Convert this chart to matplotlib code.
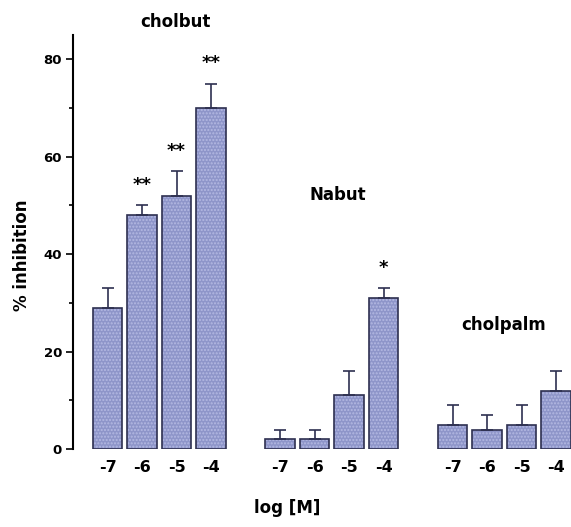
import matplotlib.pyplot as plt
from matplotlib.ticker import MultipleLocator

plt.rcParams['font.family'] = ['DejaVu Sans']
plt.rcParams['font.weight'] = 'bold'

# data
doses = ["-7", "-6", "-5", "-4"]
groups = ["cholbut", "Nabut", "cholpalm"]
cholbut = [29, 48, 52, 70]
cholbut_err = [4, 2, 5, 5]
nabut = [2, 2, 11, 31]
nabut_err = [2, 2, 5, 2]
cholpalm = [5, 4, 5, 12]
cholpalm_err = [4, 3, 4, 4]
stars = [["", "**", "**", "**"], ["", "", "", "*"], ["", "", "", ""]]

values = [cholbut, nabut, cholpalm]
errors = [cholbut_err, nabut_err, cholpalm_err]

fig = plt.figure(figsize=(5.71, 5.27), dpi=100)
ax = fig.add_axes([0.128, 0.148, 0.872, 0.786])

face = '#8e95c9'
edge = '#2e3050'
ticks = []
ticklabels = []
for g in range(3):
	x = [g * 5 + i for i in range(4)]
	ax.bar(x, values[g], width=0.85, color=face, edgecolor='#b4b9e2', hatch='.....', linewidth=0)
	ax.bar(x, values[g], width=0.85, fill=False, edgecolor=edge, linewidth=1.2)
	ax.errorbar(x, values[g], yerr=[[0] * 4, errors[g]], fmt='none', ecolor=edge,
				elinewidth=1.2, capsize=4, capthick=1.2)
	for i in range(4):
		if stars[g][i]:
			ax.text(x[i], values[g][i] + errors[g][i] + 2.3, stars[g][i], ha='center',
					va='bottom', fontsize=13, fontweight='bold')
	ticks += x
	ticklabels += doses

# group labels
ax.text(1.96, 87.7, groups[0], ha='center', va='center', fontsize=12, fontweight='bold')
ax.text(6.68, 52.1, groups[1], ha='center', va='center', fontsize=12, fontweight='bold')
ax.text(11.49, 25.4, groups[2], ha='center', va='center', fontsize=12, fontweight='bold')

ax.set_xlim(-1.0, 13.43)
ax.set_ylim(0, 85)
ax.set_xticks(ticks)
ax.set_xticklabels(ticklabels, fontsize=11.5, fontweight='bold')
ax.tick_params(axis='x', length=0, pad=8)
ax.yaxis.set_major_locator(MultipleLocator(20))
ax.yaxis.set_minor_locator(MultipleLocator(10))
ax.tick_params(axis='y', which='major', length=5, width=1.2, labelsize=9.5, pad=3)
ax.tick_params(axis='y', which='minor', length=3, width=1.2)
for s in ['top', 'right', 'bottom']:
	ax.spines[s].set_visible(False)
ax.spines['left'].set_linewidth(1.5)
ax.set_ylabel('% inhibition', fontsize=12, fontweight='bold')
ax.yaxis.set_label_coords((22 - 73) / (571 - 73), (449 - 255) / 414.4)
ax.set_xlabel('log [M]', fontsize=12, fontweight='bold')
ax.xaxis.set_label_coords((287 - 73) / (571 - 73), -(508 - 449) / 414.4)
ax.xaxis.label.set_va('center')
ax.yaxis.label.set_va('center')

fig.savefig('out.png', dpi=100)
